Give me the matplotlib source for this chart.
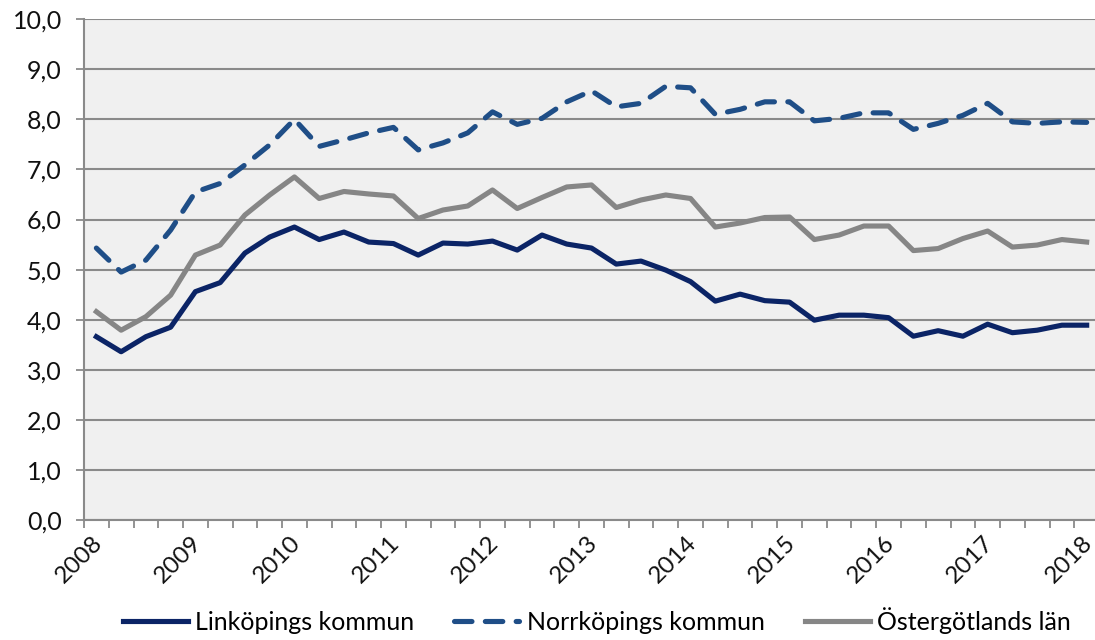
import numpy as np
import matplotlib
matplotlib.use("Agg")
import matplotlib.pyplot as plt
import matplotlib.transforms as mtransforms
from matplotlib.ticker import FixedLocator, FuncFormatter

# Kvartalsdata 2008 kv1 - 2018 kv1
years = ["2008", "2009", "2010", "2011", "2012", "2013",
         "2014", "2015", "2016", "2017", "2018"]

linkoping = [3.66, 3.36, 3.66, 3.85, 4.56, 4.74, 5.33, 5.65, 5.85, 5.60,
             5.75, 5.55, 5.52, 5.29, 5.53, 5.51, 5.57, 5.39, 5.69, 5.51,
             5.43, 5.11, 5.17, 4.99, 4.76, 4.37, 4.51, 4.38, 4.35, 3.99,
             4.09, 4.09, 4.04, 3.67, 3.78, 3.67, 3.91, 3.74, 3.79, 3.89,
             3.89]

norrkoping = [5.43, 4.95, 5.19, 5.79, 6.55, 6.72, 7.09, 7.49, 8.00, 7.46,
              7.59, 7.73, 7.84, 7.39, 7.53, 7.73, 8.15, 7.90, 8.02, 8.35,
              8.57, 8.25, 8.32, 8.66, 8.63, 8.10, 8.20, 8.35, 8.35, 7.97,
              8.02, 8.13, 8.13, 7.80, 7.92, 8.08, 8.32, 7.95, 7.92, 7.95,
              7.94]

ostergotland = [4.16, 3.79, 4.06, 4.49, 5.29, 5.49, 6.09, 6.49, 6.85, 6.42,
                6.56, 6.51, 6.47, 6.02, 6.19, 6.27, 6.59, 6.22, 6.44, 6.65,
                6.69, 6.24, 6.39, 6.49, 6.42, 5.85, 5.93, 6.04, 6.05, 5.60,
                5.69, 5.87, 5.87, 5.38, 5.42, 5.62, 5.77, 5.45, 5.49, 5.60,
                5.55]

plt.rcParams["font.family"] = ["Lato", "DejaVu Sans"]

fig = plt.figure(figsize=(10.95, 6.4), dpi=100)
ax = fig.add_axes([0.0767, 0.1875, 0.927, 0.7825])
ax.set_facecolor("#f0f0f0")

x = np.arange(len(linkoping))
ax.plot(x, linkoping, color="#0b2466", lw=3.7, solid_joinstyle="round",
        label="Linköpings kommun", zorder=3)
ax.plot(x, norrkoping, color="#1f4e87", lw=3.7, linestyle=(0, (3.4, 2.6)),
        dash_capstyle="round", label="Norrköpings kommun", zorder=3)
ax.plot(x, ostergotland, color="#868686", lw=3.7, solid_joinstyle="round",
        label="Östergötlands län", zorder=3)

ax.set_xlim(-0.5, len(x) - 0.5)
ax.set_ylim(0, 10)
ax.set_yticks(np.arange(0, 10.01, 1))
ax.yaxis.set_major_formatter(FuncFormatter(lambda v, p: f"{v:.1f}".replace(".", ",")))
ax.grid(axis="y", color="#8a8a8a", lw=1.5, zorder=1)
ax.set_axisbelow(True)

ax.xaxis.set_major_locator(FixedLocator(np.arange(0, len(x), 4)))
ax.set_xticklabels(years)
ax.xaxis.set_minor_locator(FixedLocator(np.arange(-0.5, len(x), 1)))
ax.tick_params(axis="x", which="major", length=0, pad=9, labelsize=17.5,
               labelcolor="#111111")
ax.tick_params(axis="x", which="minor", length=6, width=1.3, color="#8a8a8a")
ax.tick_params(axis="y", length=6, width=1.3, color="#8a8a8a", labelsize=18,
               labelcolor="#111111", pad=10)
shift = mtransforms.ScaledTranslation(-0.05, 0, fig.dpi_scale_trans)
for lab in ax.get_xticklabels():
    lab.set_rotation(45)
    lab.set_ha("right")
    lab.set_va("top")
    lab.set_rotation_mode("anchor")
    lab.set_transform(lab.get_transform() + shift)

for s in ["top", "right"]:
    ax.spines[s].set_visible(False)
for s in ["left", "bottom"]:
    ax.spines[s].set_color("#8a8a8a")
    ax.spines[s].set_linewidth(1.5)

fig.legend(loc="lower center", bbox_to_anchor=(0.545, -0.025), ncol=3,
           frameon=False, fontsize=18, handlelength=2.6, handletextpad=0.3,
           columnspacing=1.6)

fig.savefig("out.png", dpi=100)
